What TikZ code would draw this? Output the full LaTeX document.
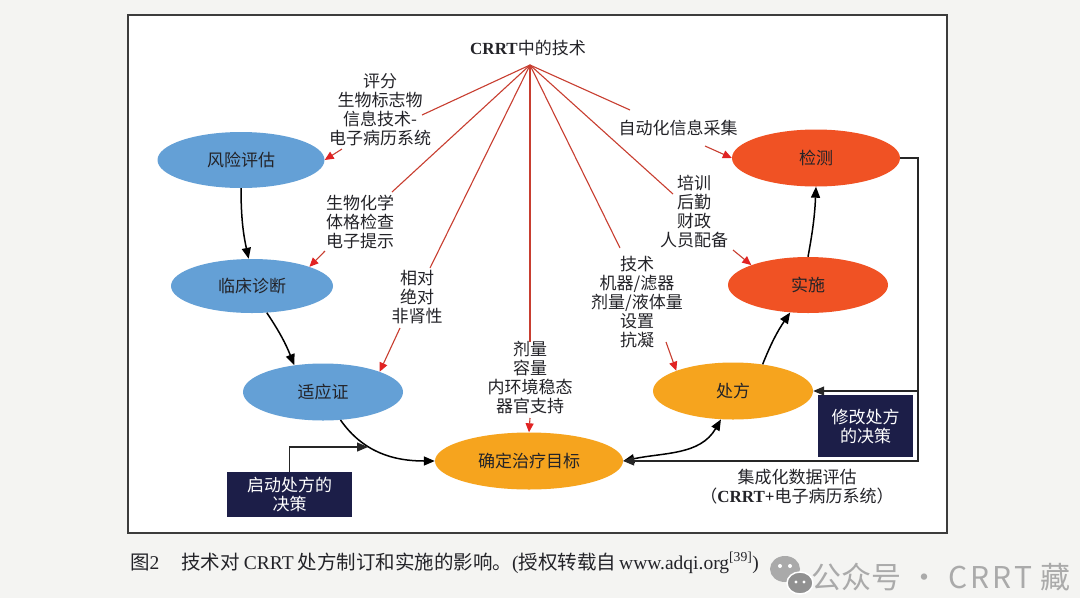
\documentclass[tikz,border=0pt]{standalone}
\usepackage{fontspec}
\setmainfont{Liberation Serif}
\newfontfamily\cjk{Noto Sans CJK SC}
\usetikzlibrary{shapes.geometric,arrows.meta,calc}
\definecolor{bluefill}{RGB}{100,160,214}
\definecolor{orangefill}{RGB}{246,164,30}
\definecolor{redfill}{RGB}{240,82,36}
\definecolor{navy}{RGB}{28,30,72}
\definecolor{redline}{RGB}{200,62,48}
\definecolor{redtip}{RGB}{225,35,35}
\definecolor{txt}{RGB}{35,35,40}
\definecolor{pagebg}{RGB}{244,244,242}
\definecolor{framecol}{RGB}{60,60,60}
\definecolor{wm}{RGB}{170,170,170}
\newcommand{\labfont}{\cjk\fontsize{17}{19}\selectfont}
\begin{document}
\begin{tikzpicture}[x=1pt,y=-1pt,
  ell/.style={ellipse, minimum width=160, minimum height=56, inner sep=0, font=\labfont, text=txt},
  blueell/.style={ell, fill=bluefill},
  orangeell/.style={ell, fill=orangefill},
  redell/.style={ell, fill=redfill},
  lab/.style={align=center, font=\labfont, text=txt, inner sep=0},
  redl/.style={draw=redline, line width=1.1},
  redar/.style={draw=redline, line width=1.1, -{Triangle[length=9pt,width=8pt,color=redtip]}},
  blk/.style={draw=black, line width=1.5, -{Triangle[length=11pt,width=9pt]}},
  blkboth/.style={draw=black, line width=1.5, {Triangle[length=11pt,width=9pt]}-{Triangle[length=11pt,width=9pt]}},
  loopar/.style={draw=black!85, line width=1.3, -{Triangle[length=11pt,width=9pt]}},
  decbox/.style={fill=navy, text=white, align=center, font=\labfont, inner sep=0}
]
\clip (0,0) rectangle (1080,598);
\fill[pagebg] (0,0) rectangle (1080,598);
\filldraw[fill=white, draw=framecol, line width=1.4] (128,15) rectangle (947,533);

% title and apex
\node[lab] (title) at (528,48) {\rmfamily\bfseries CRRT{\cjk\mdseries 中的技术}};
\coordinate (t) at (530,65);

% ellipses
\node[blueell, minimum width=167, minimum height=56] (r1) at (241,160) {风险评估};
\node[blueell, minimum width=162, minimum height=54] (r2) at (252,286) {临床诊断};
\node[blueell, minimum width=160, minimum height=57] (r3) at (323,392) {适应证};
\node[orangeell, minimum width=188, minimum height=57] (r4) at (529,461) {确定治疗目标};
\node[orangeell, minimum width=160, minimum height=57] (r5) at (733,391) {处方};
\node[redell, minimum width=160, minimum height=56] (r6) at (808,285) {实施};
\node[redell, minimum width=168, minimum height=57] (r7) at (816,158) {检测};

% labels
\node[lab] (l1) at (380,110) {评分\\生物标志物\\信息技术-\\电子病历系统};
\node[lab] (l2) at (360,222) {生物化学\\体格检查\\电子提示};
\node[lab] (l3) at (417,297) {相对\\绝对\\非肾性};
\node[lab] (l4) at (530,378) {剂量\\容量\\内环境稳态\\器官支持};
\node[lab] (l5) at (637,302) {技术\\机器/滤器\\剂量/液体量\\设置\\抗凝};
\node[lab] (l6) at (694,212) {培训\\后勤\\财政\\人员配备};
\node[lab] (l7) at (678,128) {自动化信息采集};
\node[lab] (l8) at (797,487) {集成化数据评估\\（{\rmfamily\bfseries CRRT+}电子病历系统）};

% decision boxes
\node[decbox, minimum width=125, minimum height=45] (b1) at (289.5,494.5) {启动处方的\\决策};
\node[decbox, minimum width=95, minimum height=62] (b2) at (865.5,426) {修改处方\\的决策};

% red fan lines
\draw[redl] (t) -- ($(l1.center)+(42,5)$);
\draw[redl] (t) -- ($(l2.center)+(32,-30)$);
\draw[redl] (t) -- ($(l3.center)+(13,-29)$);
\draw[redl] (t) -- ($(l4.center)+(0,-36)$);
\draw[redl] (t) -- ($(l5.center)+(-17,-54)$);
\draw[redl] (t) -- ($(l6.center)+(-21,-18)$);
\draw[redl] (t) -- ($(l7.center)+(-48,-18)$);

% red short arrows
\draw[redar] ($(l1.center)+(-38,39)$) -- (r1.east);
\draw[redar] ($(l2.center)+(-35,29)$) -- (r2.north east);
\draw[redar] ($(l3.center)+(-17,31)$) -- (r3.north east);
\draw[redar] ($(l4.center)+(0,40)$) -- (r4.north);
\draw[redar] ($(l5.center)+(29,40)$) -- (r5.north west);
\draw[redar] ($(l6.center)+(39,38)$) -- (r6.north west);
\draw[redar] ($(l7.center)+(27,18)$) -- (r7.west);

% black flow arrows
\draw[blk] (r1.south) to[bend right=6] (r2.97);
\draw[blk] (r2.-61) to[bend left=6] (r3.137);
\draw[blk] (r3.-58) to[out=-55,in=180] (r4.west);
\draw[blkboth] (r4.east) to[out=12,in=-120] (r5.-113);
\draw[blk] (r5.42) to[bend left=6] (r6.-123);
\draw[blk] (r6.north) to[bend right=4] (r7.south);

% start decision arrow
\coordinate (c1) at (368,447);
\draw[loopar] (b1.north) |- (c1);

% feedback loop
\coordinate (k2) at (918,391);
\coordinate (k3) at (918,461);
\draw[loopar] (r7.east) -| (k3) -- (r4.east);
\draw[loopar] (k2) -- (r5.east);

% caption
\node[anchor=west, inner sep=0, text=txt, font=\fontsize{19.5}{22}\selectfont] (cap) at (130,563)
  {{\cjk 图}2\hspace{22pt}{\cjk 技术对}\hspace{4pt}CRRT\hspace{4pt}{\cjk 处方制订和实施的影响。}({\cjk 授权转载自}\hspace{3pt}www.adqi.org\textsuperscript{[39]})};

% watermark
\fill[wm] (785,569) ellipse [x radius=15, y radius=13];
\fill[wm!85!black, draw=white, line width=1.5] (800,583) ellipse [x radius=13, y radius=11];
\fill[white] (780,566) circle (2) (790,566) circle (2);
\fill[white] (796,582) circle (1.6) (804,582) circle (1.6);
\node[anchor=west, inner sep=0, text=wm, font=\cjk\fontsize{30}{32}\selectfont] (wmk) at (811,577) {公众号\hspace{8pt}·\hspace{9pt}C\kern3pt R\kern3pt R\kern3pt T\kern8pt 藏};
\end{tikzpicture}
\end{document}
